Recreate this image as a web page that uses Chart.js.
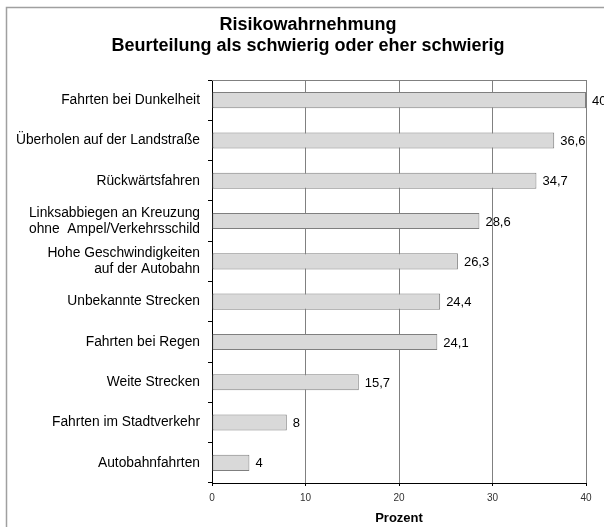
<!DOCTYPE html>
<html>
<head>
<meta charset="utf-8">
<script src="https://cdn.jsdelivr.net/npm/chart.js@4/dist/chart.umd.min.js"></script>
<style>
  html, body { margin: 0; padding: 0; background: #fff; }
  canvas { display: block; }
</style>
</head>
<body>
<canvas id="myChart" width="604" height="527"></canvas>
<script>
// chart data
const titleLines = ['Risikowahrnehmung', 'Beurteilung als schwierig oder eher schwierig'];
const categories = [
  'Fahrten bei Dunkelheit',
  'Überholen auf der Landstraße',
  'Rückwärtsfahren',
  ['Linksabbiegen an Kreuzung', 'ohne  Ampel/Verkehrsschild'],
  ['Hohe Geschwindigkeiten', 'auf der Autobahn'],
  'Unbekannte Strecken',
  'Fahrten bei Regen',
  'Weite Strecken',
  'Fahrten im Stadtverkehr',
  'Autobahnfahrten'
];
const values = [40, 36.6, 34.7, 28.6, 26.3, 24.4, 24.1, 15.7, 8, 4];
const xTicks = [0, 10, 20, 30, 40];
const xTitle = 'Prozent';

const FONT = 'Liberation Sans, Arial, sans-serif';

// frame, title, top border, value labels
const extras = {
  id: 'extras',
  beforeDraw(chart) {
    const c = chart.ctx;
    c.save();
    c.strokeStyle = '#a0a0a0';
    c.lineWidth = 1.5;
    c.strokeRect(6.5, 7.5, 700, 700);
    c.restore();
  },
  afterDraw(chart) {
    const c = chart.ctx;
    const a = chart.chartArea;
    c.save();
    // title
    c.fillStyle = '#000';
    c.font = 'bold 18px ' + FONT;
    c.textAlign = 'center';
    c.textBaseline = 'alphabetic';
    c.fillText(titleLines[0], 308, 30);
    c.fillText(titleLines[1], 308, 51);
    // top border of plot
    c.strokeStyle = '#808080';
    c.lineWidth = 1;
    c.beginPath();
    c.moveTo(a.left, Math.round(a.top) + 0.5);
    c.lineTo(a.right, Math.round(a.top) + 0.5);
    c.stroke();
    // value labels
    c.font = '13px ' + FONT;
    c.textAlign = 'left';
    c.textBaseline = 'middle';
    const meta = chart.getDatasetMeta(0);
    meta.data.forEach((bar, i) => {
      c.fillText(String(values[i]).replace('.', ','), bar.x + 6, bar.y + 1);
    });
    c.restore();
  }
};

const ctx = document.getElementById('myChart').getContext('2d');
new Chart(ctx, {
  type: 'bar',
  data: {
    labels: categories,
    datasets: [{
      data: values,
      backgroundColor: '#d9d9d9',
      borderColor: '#7f7f7f',
      borderWidth: 1,
      borderSkipped: false,
      categoryPercentage: 1,
      barPercentage: 0.4
    }]
  },
  options: {
    indexAxis: 'y',
    responsive: false,
    animation: false,
    layout: { padding: { left: 0, top: 80, right: 18, bottom: 0 } },
    plugins: {
      legend: { display: false },
      tooltip: { enabled: false }
    },
    scales: {
      y: {
        afterFit(scale) { scale.width = 212; },
        border: { color: '#000', width: 1 },
        grid: { drawOnChartArea: false, tickLength: 4, color: '#000' },
        ticks: {
          color: '#000',
          padding: 8,
          font: { family: FONT, size: 13.8, lineHeight: 1.12 }
        }
      },
      x: {
        min: 0,
        max: 40,
        afterBuildTicks(scale) { scale.ticks = xTicks.map(v => ({ value: v })); },
        afterFit(scale) { scale.height = 44; },
        border: { color: '#000', width: 1 },
        grid: { color: '#808080', tickLength: 3, tickColor: '#000' },
        ticks: {
          color: '#333',
          padding: 6,
          font: { family: FONT, size: 10 }
        },
        title: {
          display: true,
          text: xTitle,
          color: '#000',
          padding: { top: 0, bottom: 1 },
          font: { family: FONT, size: 13, weight: 'bold' }
        }
      }
    }
  },
  plugins: [extras]
});
</script>
</body>
</html>
